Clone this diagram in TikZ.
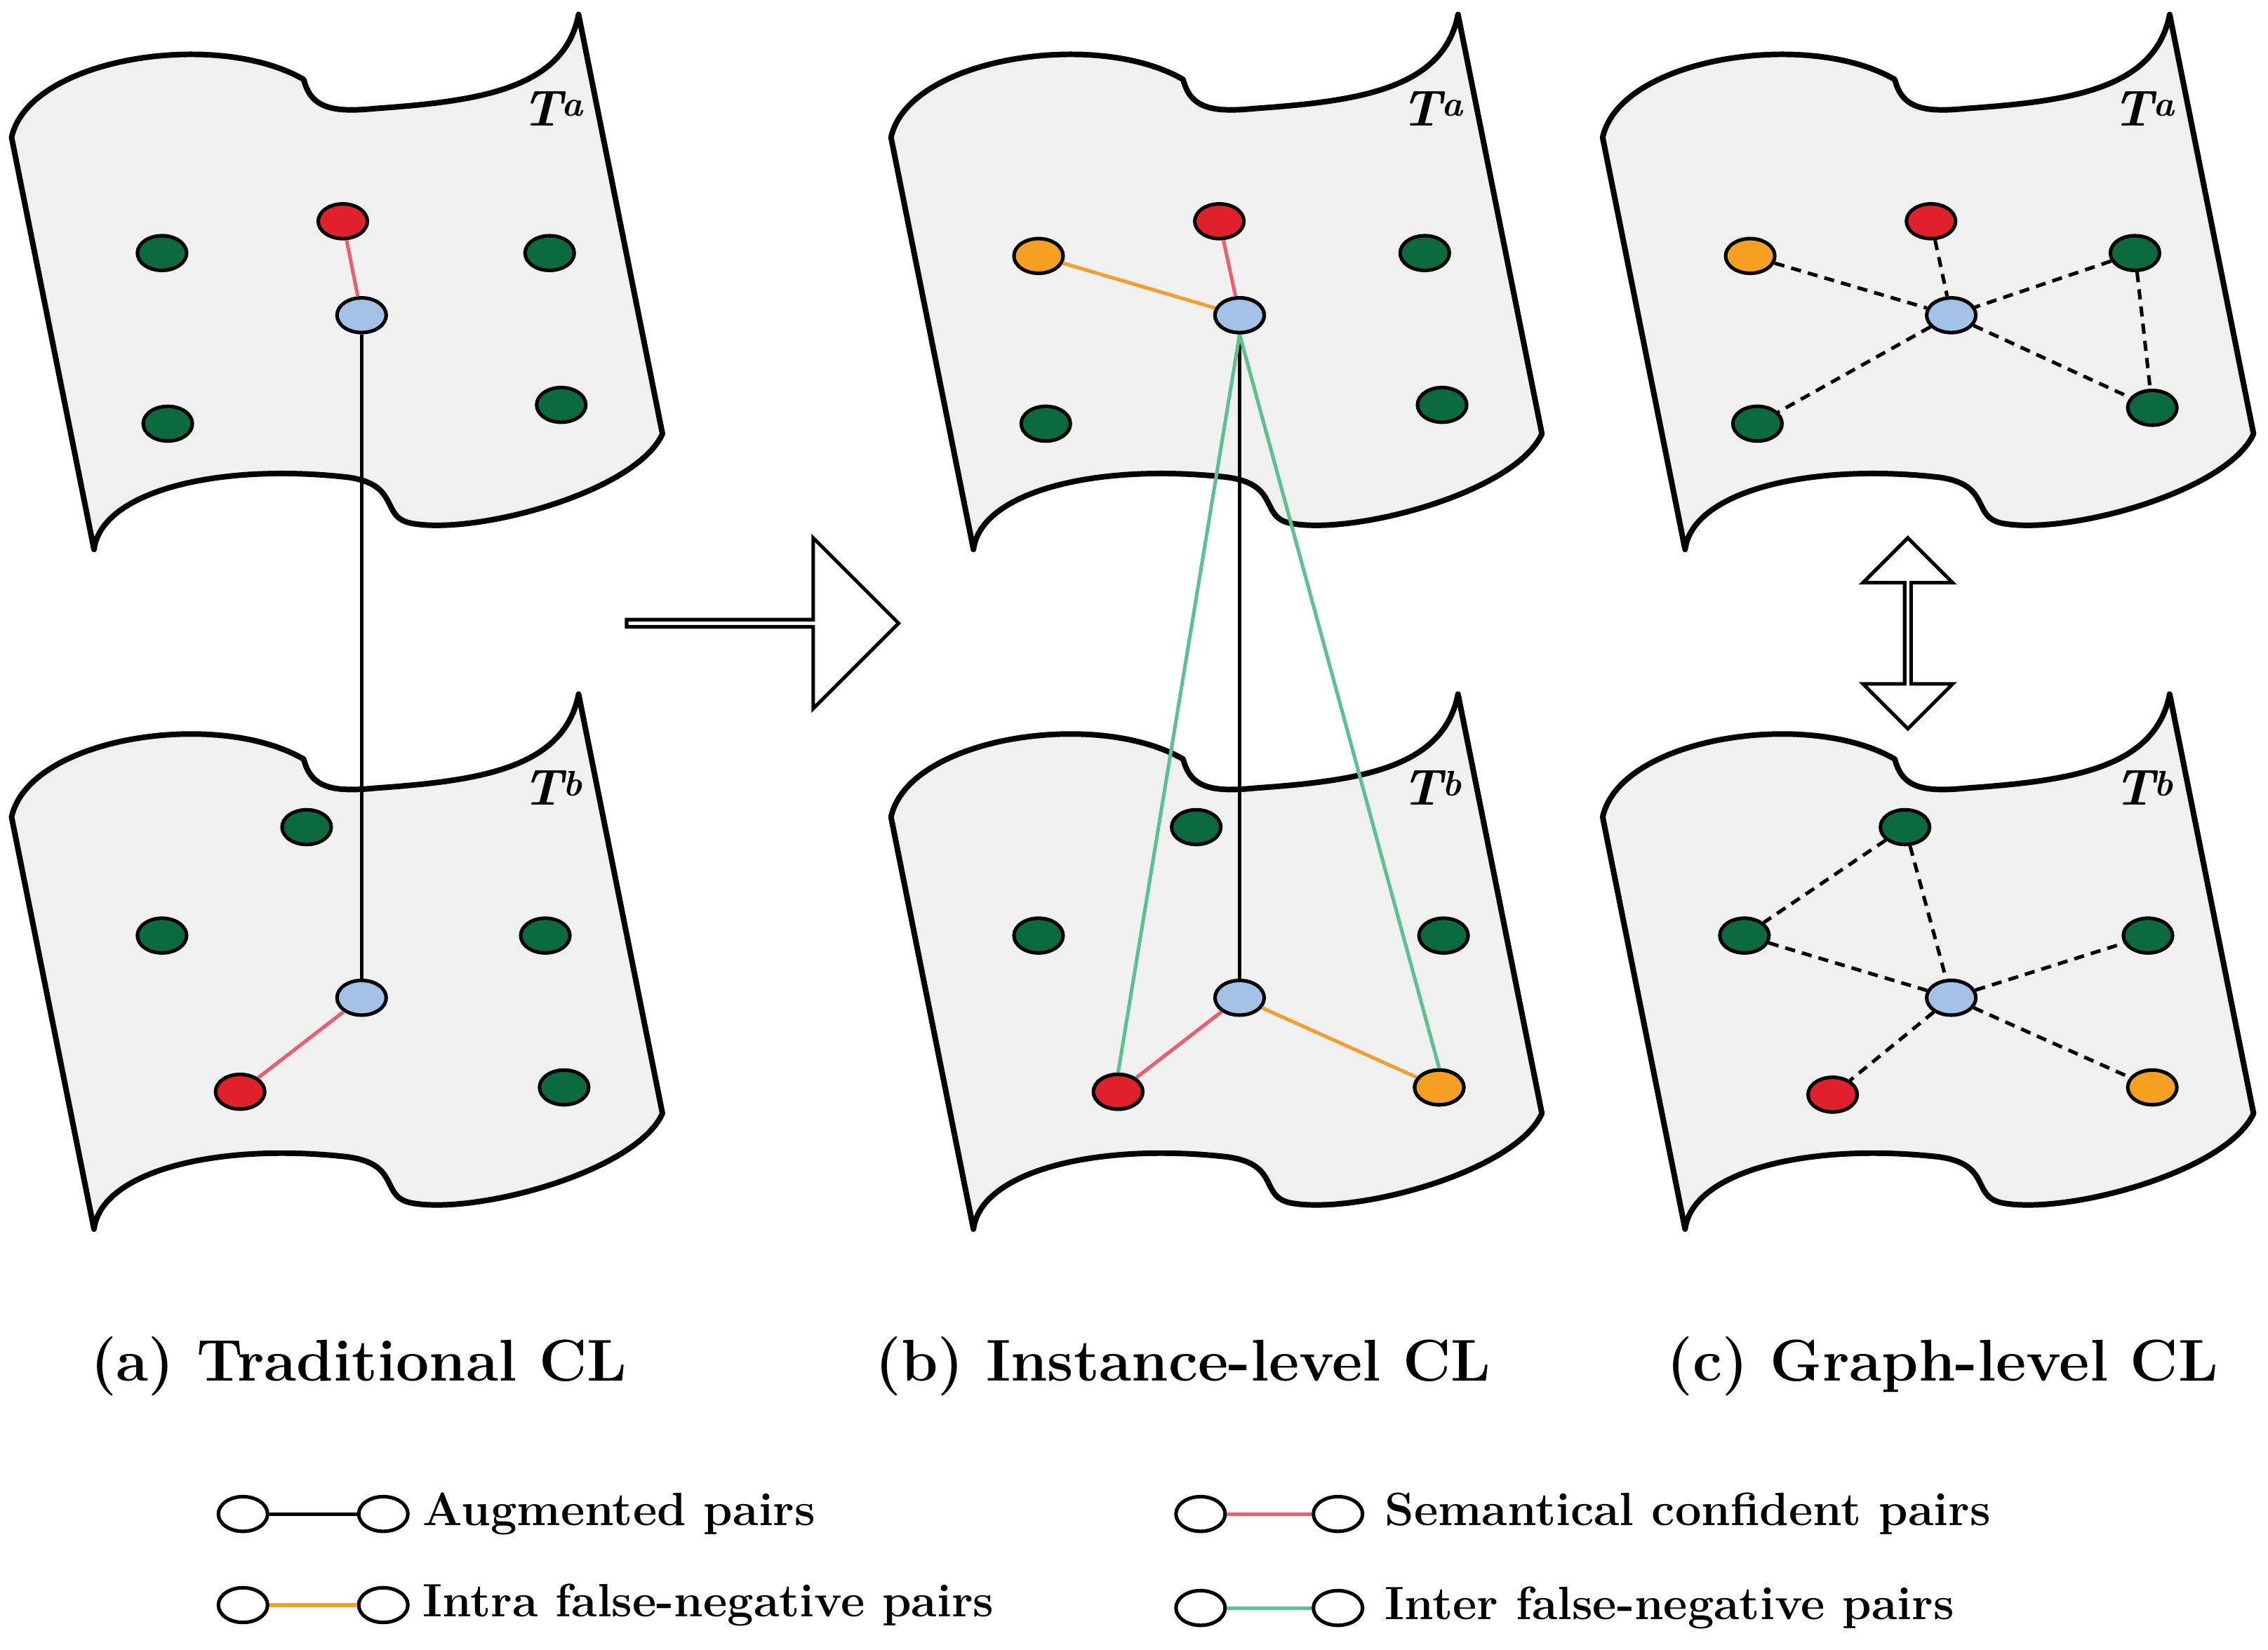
\documentclass[tikz,border=0pt]{standalone}
\usetikzlibrary{shapes.geometric,shapes.arrows}
\begin{document}
\definecolor{sheetfill}{HTML}{F0F0F0}
\definecolor{dgreen}{HTML}{0B6B3E}
\definecolor{dred}{HTML}{E0202A}
\definecolor{lblue}{HTML}{A4C2E8}
\definecolor{dorange}{HTML}{F5A020}
\definecolor{pinkl}{HTML}{E8606F}
\definecolor{greenl}{HTML}{5CC090}
\definecolor{orangel}{HTML}{F0A030}
\begin{tikzpicture}[x=0.05cm,y=-0.05cm,
 dot/.style={ellipse,draw=black,line width=3.5pt,minimum width=1.7cm,minimum height=1.2cm,inner sep=0pt},
 G/.style={dot,fill=dgreen}, R/.style={dot,fill=dred}, B/.style={dot,fill=lblue}, O/.style={dot,fill=dorange}, W/.style={dot,fill=white},
 con/.style={line width=3.5pt},
 dsh/.style={line width=3.5pt,dash pattern=on 10pt off 7pt},
 captxt/.style={font=\fontsize{58}{66}\selectfont\bfseries},
 leg/.style={font=\fontsize{46}{54}\selectfont\bfseries,anchor=west},
 tl/.style={font=\fontsize{50}{58}\selectfont\bfseries\itshape},
 sheet/.pic={\draw[line width=5.5pt,fill=sheetfill,line join=round]
   (8,95) .. controls (20,40) and (150,20) .. (210,55)
   .. controls (215,75) and (230,78) .. (260,75)
   .. controls (330,70) and (390,62) .. (400,10)
   -- (458,300)
   .. controls (440,340) and (330,370) .. (285,362)
   .. controls (262,358) and (278,335) .. (240,330)
   .. controls (150,320) and (70,340) .. (65,380) -- cycle;}]
\useasboundingbox (0,0) rectangle (1568,1141);
\foreach \dx in {0,608,1100}{
  \pic at (\dx,0) {sheet};
  \pic at (\dx,470) {sheet};
}
% T labels
\foreach \dx/\n in {0/a,608/b,1100/c}{
  \node[tl] (ta\n) at (382+\dx,75) {T\textsuperscript{a}};
  \node[tl] (tb\n) at (382+\dx,545) {T\textsuperscript{b}};
}
% panel a
\node[G] (a1) at (112,175) {}; \node[G] (a2) at (380,175) {};
\node[G] (a3) at (116,293) {}; \node[G] (a4) at (388,280) {};
\node[R] (ar) at (237,153) {}; \node[B] (ab) at (250,218) {};
\node[G] (a5) at (212,572) {}; \node[G] (a6) at (112,647) {};
\node[G] (a7) at (377,647) {}; \node[G] (a8) at (390,752) {};
\node[B] (abb) at (250,690) {}; \node[R] (arb) at (166,755) {};
\draw[con,pinkl] (ar) -- (ab);
\draw[con] (ab) -- (abb);
\draw[con,pinkl] (abb) -- (arb);
% panel b
\node[O] (bo) at (718,177) {}; \node[R] (br) at (843,153) {};
\node[B] (bb) at (857,218) {}; \node[G] (b1) at (985,175) {};
\node[G] (b2) at (723,293) {}; \node[G] (b3) at (997,280) {};
\node[G] (b4) at (827,572) {}; \node[G] (b5) at (718,647) {};
\node[G] (b6) at (998,647) {}; \node[B] (bbb) at (857,690) {};
\node[R] (brb) at (773,755) {}; \node[O] (bob) at (995,752) {};
\draw[con,orangel] (bo) -- (bb);
\draw[con,pinkl] (br) -- (bb);
\draw[con] (bb) -- (bbb);
\draw[con,greenl] (bb.south) -- (brb.north);
\draw[con,greenl] (bb.south) -- (bob.north);
\draw[con,pinkl] (bbb) -- (brb);
\draw[con,orangel] (bbb) -- (bob);
\node[B] at (857,218) {}; \node[R] at (773,755) {}; \node[O] at (995,752) {};
% panel c
\node[O] (co) at (1210,177) {}; \node[R] (cr) at (1335,153) {};
\node[B] (cb) at (1349,218) {}; \node[G] (c1) at (1476,175) {};
\node[G] (c2) at (1215,293) {}; \node[G] (c3) at (1488,282) {};
\draw[dsh] (co) -- (cb); \draw[dsh] (cr) -- (cb); \draw[dsh] (c1) -- (cb);
\draw[dsh] (cb) -- (c2); \draw[dsh] (cb) -- (c3); \draw[dsh] (c1) -- (c3);
\node[G] (c4) at (1317,572) {}; \node[G] (c5) at (1206,647) {};
\node[G] (c6) at (1485,647) {}; \node[B] (cbb) at (1349,690) {};
\node[R] (crb) at (1267,757) {}; \node[O] (cob) at (1488,752) {};
\draw[dsh] (c4) -- (c5); \draw[dsh] (c4) -- (cbb); \draw[dsh] (c5) -- (cbb);
\draw[dsh] (cbb) -- (c6); \draw[dsh] (cbb) -- (crb); \draw[dsh] (cbb) -- (cob);
% arrows
\node[single arrow,draw,line width=3.5pt,fill=white,minimum height=9.4cm,minimum width=5.9cm,single arrow head extend=1.4cm,inner sep=0pt,single arrow tip angle=90] (arr) at (526,431) {};
\node[double arrow,draw,line width=3.5pt,fill=white,rotate=90,minimum height=6.6cm,minimum width=3.1cm,double arrow head extend=0.8cm,inner sep=0pt,double arrow tip angle=90] (darr) at (1319,438) {};
% captions
\node[captxt] (capa) at (248,945) {(a) Traditional CL};
\node[captxt] (capb) at (818,945) {(b) Instance-level CL};
\node[captxt] (capc) at (1343,945) {(c) Graph-level CL};
% legend
\node[W] (l1) at (168,1047) {}; \node[W] (l2) at (265,1047) {};
\draw[con] (l1) -- (l2);
\node[leg] at (290,1047) {Augmented pairs};
\node[W] (l3) at (168,1110) {}; \node[W] (l4) at (265,1110) {};
\draw[con,orangel] (l3) -- (l4);
\node[leg] at (290,1110) {Intra false-negative pairs};
\node[W] (l5) at (830,1047) {}; \node[W] (l6) at (925,1047) {};
\draw[con,pinkl] (l5) -- (l6);
\node[leg] at (955,1047) {Semantical confident pairs};
\node[W] (l7) at (830,1112) {}; \node[W] (l8) at (925,1112) {};
\draw[con,greenl] (l7) -- (l8);
\node[leg] at (955,1112) {Inter false-negative pairs};
\end{tikzpicture}
\end{document}
